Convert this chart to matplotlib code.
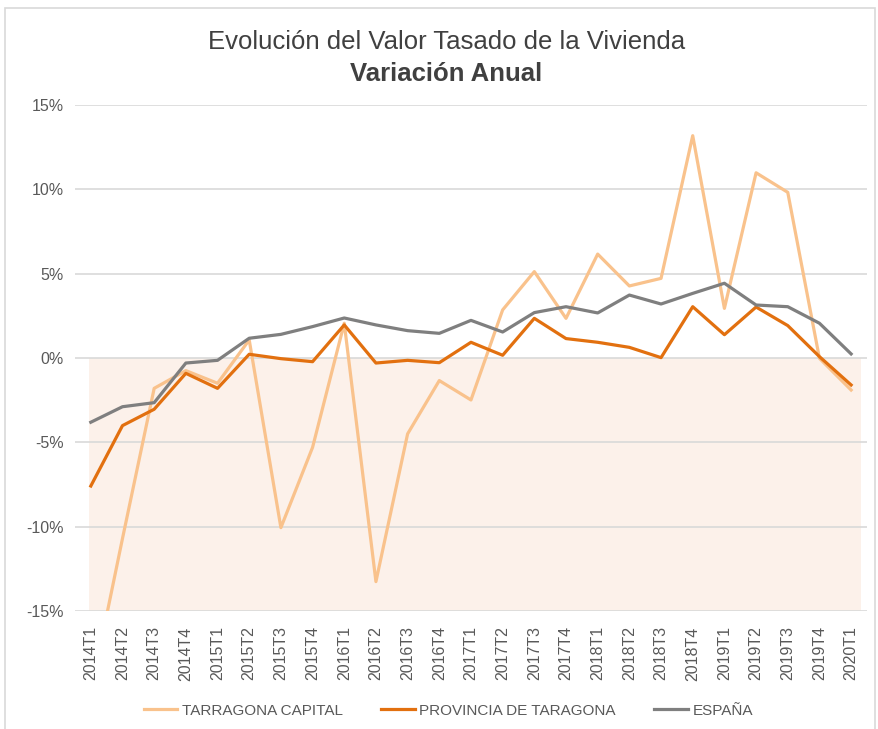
import matplotlib.pyplot as plt
from matplotlib.patches import Rectangle
from matplotlib.ticker import FuncFormatter

plt.rcParams['font.family'] = ['Liberation Sans', 'DejaVu Sans']

quarters = ["2014T1", "2014T2", "2014T3", "2014T4",
            "2015T1", "2015T2", "2015T3", "2015T4",
            "2016T1", "2016T2", "2016T3", "2016T4",
            "2017T1", "2017T2", "2017T3", "2017T4",
            "2018T1", "2018T2", "2018T3", "2018T4",
            "2019T1", "2019T2", "2019T3", "2019T4",
            "2020T1"]

tarragona_capital = [-19.8, -10.7, -1.8, -0.75, -1.5, 1.07, -10.06, -5.3,
                     2.06, -13.26, -4.5, -1.34, -2.49, 2.85, 5.12, 2.35,
                     6.16, 4.27, 4.72, 13.18, 2.94, 10.98, 9.82, -0.02, -1.9]
provincia = [-7.59, -4.01, -3.04, -0.91, -1.8, 0.22, -0.04, -0.22,
             1.96, -0.3, -0.14, -0.28, 0.93, 0.16, 2.35, 1.15,
             0.93, 0.63, 0.02, 3.04, 1.38, 3.02, 1.92, 0.08, -1.6]
espana = [-3.81, -2.89, -2.65, -0.3, -0.14, 1.17, 1.4, 1.86,
          2.37, 1.96, 1.62, 1.46, 2.23, 1.54, 2.69, 3.04,
          2.67, 3.73, 3.2, 3.83, 4.43, 3.14, 3.04, 2.06, 0.24]

x = list(range(len(quarters)))

fig = plt.figure(figsize=(8.79, 7.29), dpi=100)
ax = fig.add_axes([0.0853, 0.1619, 0.901, 0.6941])

# shaded negative band
ax.fill_between([-0.06, 24.3], [0, 0], [-15, -15], color="#FCF1EA", lw=0, zorder=0)

for v in [-15, -10, -5, 0, 5, 10, 15]:
    ax.axhline(v, color="#D9D9D9", lw=1.2, zorder=1)

ax.plot(x, tarragona_capital, color="#F9C28C", lw=2.3, label="TARRAGONA CAPITAL", zorder=3)
ax.plot(x, provincia, color="#E2700F", lw=2.3, label="PROVINCIA DE TARAGONA", zorder=4)
ax.plot(x, espana, color="#7F7F7F", lw=2.3, label="ESPAÑA", zorder=5)

ax.set_xlim(-0.5, 24.5)
ax.set_ylim(-15, 15)
ax.set_yticks([-15, -10, -5, 0, 5, 10, 15])
ax.yaxis.set_major_formatter(FuncFormatter(lambda v, p: f"{v:.0f}%"))
ax.set_xticks(x)
ax.set_xticklabels(quarters, rotation=90)
ax.tick_params(axis="both", length=0, colors="#595959", labelsize=11.5)
ax.tick_params(axis="y", pad=8)
ax.tick_params(axis="x", pad=11)
for s in ax.spines.values():
    s.set_visible(False)

fig.text(0.508, 0.943, "Evolución del Valor Tasado de la Vivienda",
         ha="center", va="center", fontsize=18.5, color="#404040")
fig.text(0.508, 0.899, "Variación Anual", ha="center", va="center",
         fontsize=18.5, fontweight="bold", color="#404040")

fig.legend(loc="center", bbox_to_anchor=(0.51, 0.025), ncol=3, frameon=False,
           fontsize=11, handlelength=2.2, columnspacing=2.5, handletextpad=0.3,
           labelcolor="#595959")

fig.patches.append(Rectangle((5 / 879, -0.01), 0.99, 1 - 8 / 729 + 0.01,
                             transform=fig.transFigure, fill=False,
                             edgecolor="#D9D9D9", lw=1.2))

fig.savefig("out.png", dpi=100)
